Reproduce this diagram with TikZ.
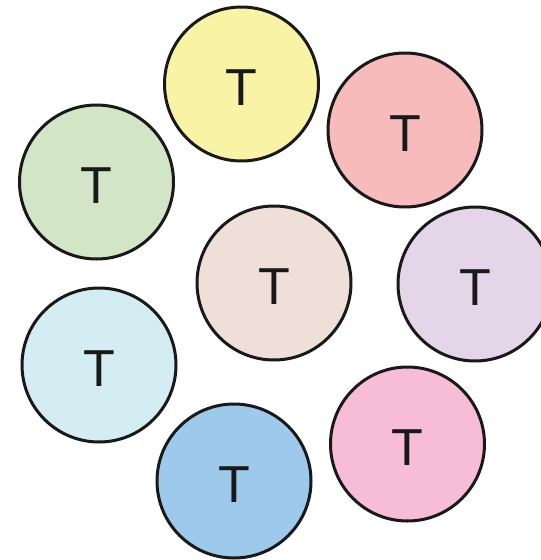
\documentclass[tikz,border=0pt]{standalone}
\usepackage{fontspec}
\setmainfont{Liberation Sans}
\definecolor{cyellow}{HTML}{F9F3A6}
\definecolor{cred}{HTML}{F7BBBC}
\definecolor{cgreen}{HTML}{D3E5C7}
\definecolor{cbeige}{HTML}{EEDFD9}
\definecolor{clavender}{HTML}{E4D5E9}
\definecolor{clightblue}{HTML}{D4EDF3}
\definecolor{cblue}{HTML}{9DC9EA}
\definecolor{cpink}{HTML}{F7BDD7}
\begin{document}
\begin{tikzpicture}[x=1pt, y=-1pt]

\tikzset{tcell/.style={circle, draw=black!90, line width=3pt, minimum size=154pt, inner sep=0pt, text=black!90}}
\tikzset{tletter/.style={font=\fontsize{52}{52}\selectfont, text height=43pt, text depth=0pt}}

\useasboundingbox (0,0) rectangle (541,560);

\node[tcell, tletter, fill=cyellow] (yellow) at (241.5,84) {T};
\node[tcell, tletter, fill=cred] (red) at (405,130) {T};
\node[tcell, tletter, fill=cgreen] (green) at (96.5,182) {T};
\node[tcell, tletter, fill=cbeige] (centre) at (274,283) {T};
\node[tcell, tletter, fill=clavender] (lavender) at (475,284) {T};
\node[tcell, tletter, fill=clightblue] (lightblue) at (99,365) {T};
\node[tcell, tletter, fill=cblue] (blue) at (234,481) {T};
\node[tcell, tletter, fill=cpink] (pink) at (407.5,444) {T};

\end{tikzpicture}
\end{document}
